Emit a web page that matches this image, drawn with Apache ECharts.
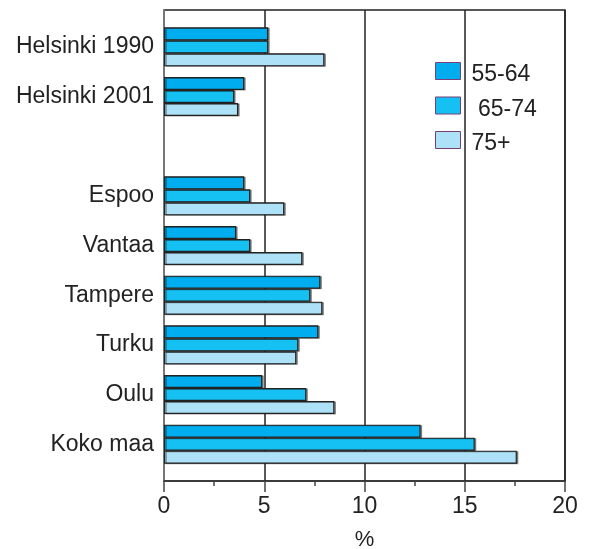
<!DOCTYPE html>
<html>
<head>
<meta charset="utf-8">
<script src="https://cdn.jsdelivr.net/npm/echarts@6/dist/echarts.min.js"></script>
<style>
  html, body { margin: 0; padding: 0; background: #fff; }
  #chart { width: 590px; height: 549px; }
</style>
</head>
<body>
<div id="chart"></div>
<script>
// Regions, top to bottom; the empty entry leaves a gap after the Helsinki rows
const categories = ['Helsinki 1990', 'Helsinki 2001', '', 'Espoo', 'Vantaa', 'Tampere', 'Turku', 'Oulu', 'Koko maa'];
const seriesNames = ['55-64', ' 65-74', '75+'];
const age55to64 = [5.2, 4.0, '-', 4.0, 3.6, 7.8, 7.7, 4.9, 12.8];
const age65to74 = [5.2, 3.5, '-', 4.3, 4.3, 7.3, 6.7, 7.1, 15.5];
const age75plus = [8.0, 3.7, '-', 6.0, 6.9, 7.9, 6.6, 8.5, 17.6];
const xTicks = { min: 0, max: 20, interval: 5 };

const colors = ['#00aeef', '#14c1f2', '#ade1f7'];
const font = '"Liberation Sans", Arial, Helvetica, sans-serif';
const textColor = '#222';

const chart = echarts.init(document.getElementById('chart'), null, { renderer: 'canvas' });

function barSeries(name, data, color) {
  return {
    name: name,
    type: 'bar',
    xAxisIndex: 1,
    yAxisIndex: 1,
    data: data,
    barWidth: 13,
    barGap: '0%',
    itemStyle: {
      color: color,
      borderColor: '#222',
      borderWidth: 1.2,
      shadowColor: 'rgba(0,0,0,0.4)',
      shadowOffsetX: 1.5,
      shadowOffsetY: 0.5,
      shadowBlur: 0
    },
    emphasis: { disabled: true },
    animation: false
  };
}

chart.setOption({
  backgroundColor: '#fff',
  textStyle: { fontFamily: font },
  grid: [
    // outer frame with the value axis
    { left: 164, right: 25, top: 10, height: 471, outerBoundsMode: 'none', containLabel: false,
      show: true, borderColor: '#222', borderWidth: 1.5, backgroundColor: 'transparent' },
    // inner band area holding the bars
    { left: 164, right: 25, top: 22, height: 447, outerBoundsMode: 'none', containLabel: false }
  ],
  xAxis: [
    {
      gridIndex: 0,
      type: 'value',
      min: xTicks.min,
      max: xTicks.max,
      interval: xTicks.interval,
      name: '%',
      nameLocation: 'middle',
      nameGap: 48,
      nameTextStyle: { fontSize: 22, color: textColor, fontFamily: font },
      axisLine: { show: true, lineStyle: { color: '#333', width: 1.5 } },
      axisTick: { show: true, inside: false, length: 11, lineStyle: { color: '#444', width: 1.5 } },
      minorTick: { show: true, splitNumber: 2, length: 5, lineStyle: { color: '#444', width: 1.5 } },
      splitLine: { show: true, lineStyle: { color: '#222', width: 1.5 } },
      axisLabel: { fontSize: 23, color: textColor, margin: 14, fontFamily: font }
    },
    {
      gridIndex: 1,
      type: 'value',
      min: xTicks.min,
      max: xTicks.max,
      show: false
    }
  ],
  yAxis: [
    {
      gridIndex: 0,
      type: 'value',
      axisLine: { show: true, lineStyle: { color: '#777', width: 2 } },
      axisTick: { show: false },
      axisLabel: { show: false },
      splitLine: { show: false }
    },
    {
      gridIndex: 1,
      type: 'category',
      inverse: true,
      data: categories,
      axisLine: { show: false },
      axisTick: { show: false },
      axisLabel: { fontSize: 23, color: textColor, margin: 10, fontFamily: font },
      splitLine: { show: false }
    }
  ],
  legend: {
    orient: 'vertical',
    left: 435,
    top: 62,
    padding: 0,
    itemWidth: 25,
    itemHeight: 17,
    itemGap: 10,
    icon: 'rect',
    data: seriesNames,
    formatter: '{t|{name}}',
    textStyle: {
      fontSize: 23, color: textColor, fontFamily: font, padding: [0, 0, 0, 6],
      rich: { t: { fontSize: 23, color: textColor, fontFamily: font, padding: [8, 0, 0, 0] } }
    },
    itemStyle: { borderColor: '#7a3e78', borderWidth: 1 }
  },
  series: [
    barSeries(seriesNames[0], age55to64, colors[0]),
    barSeries(seriesNames[1], age65to74, colors[1]),
    barSeries(seriesNames[2], age75plus, colors[2])
  ]
});
</script>
</body>
</html>
